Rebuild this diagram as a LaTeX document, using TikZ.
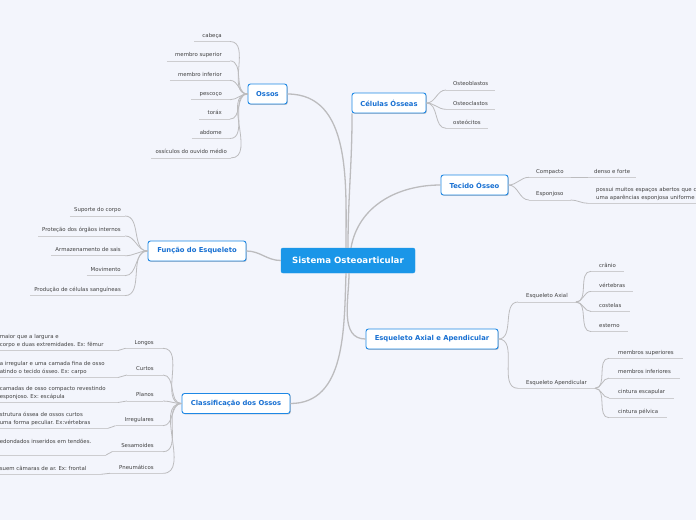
\documentclass[tikz,border=0pt]{standalone}
\usepackage{fontspec}
\setmainfont{DejaVu Sans}
\usetikzlibrary{shadows}
\definecolor{bg}{RGB}{243,245,252}
\definecolor{mblue}{RGB}{30,136,229}
\definecolor{mtext}{RGB}{24,112,210}
\definecolor{cfill}{RGB}{26,150,232}
\definecolor{lgray}{RGB}{205,205,208}
\definecolor{cgray}{RGB}{188,188,190}
\definecolor{tgray}{RGB}{65,65,65}
\newcommand{\dfix}{\rule[-1.5pt]{0pt}{1pt}}
\frenchspacing
\tikzset{
  central/.style={fill=cfill, draw=cfill, rounded corners=2pt, text=white,
    font=\fontsize{8.6}{10}\selectfont\bfseries, minimum width=134pt, minimum height=25pt, inner sep=0pt},
  topic/.style={fill=white, draw=mblue, line width=0.9pt, rounded corners=2.5pt, text=mtext,
    font=\fontsize{6.8}{8}\selectfont\bfseries, minimum height=20pt, inner sep=0pt,
    drop shadow={shadow xshift=0.8pt, shadow yshift=-0.9pt, opacity=0.22, fill=black}},
  uline/.style={draw=lgray, line width=0.8pt},
  sub/.style={font=\fontsize{5.4}{7.5}\selectfont\frenchspacing, text=tgray, inner ysep=2.5pt, inner xsep=7pt,
    text height=4pt, text depth=1.5pt,
    append after command={(\tikzlastnode.south west) edge[uline] (\tikzlastnode.south east)}},
  desc/.style={font=\fontsize{5.4}{7.5}\selectfont\frenchspacing, text=tgray, inner ysep=2.5pt, inner xsep=0pt,
    align=left, anchor=south east,
    append after command={(\tikzlastnode.south west) edge[uline] (\tikzlastnode.south east)}},
  conn/.style={draw=cgray, line width=0.8pt},
  mainconn/.style={draw=cgray, line width=1.3pt},
}
\begin{document}
\begin{tikzpicture}[x=1pt,y=-1pt]
\fill[bg] (0,0) rectangle (696,520);
\useasboundingbox (0,0) rectangle (696,520);

% main nodes
\node[central] (c) at (348,260.5) {Sistema Osteoarticular};
\node[topic, minimum width=39pt] (ossos) at (267.5,94) {Ossos};
\node[topic, minimum width=74pt] (cel) at (389,103) {Células Ósseas};
\node[topic, minimum width=67pt] (tec) at (474.5,185) {Tecido Ósseo};
\node[topic, minimum width=98pt] (fun) at (197,251) {Função do Esqueleto};
\node[topic, minimum width=108pt] (cla) at (236,403.5) {Classificação dos Ossos};
\node[topic, minimum width=132pt] (eaa) at (432,339) {Esqueleto Axial e Apendicular};

% main connectors
\draw[mainconn] ([xshift=-2pt]c.north) to[out=90,in=0] (ossos.east);
\draw[mainconn] ([xshift=0pt]c.north) to[out=90,in=-90] ([xshift=0.5pt]cel.south west);
\draw[mainconn] ([xshift=3pt]c.north) to[out=80,in=180] (tec.west);
\draw[mainconn] (c.west) to[out=180,in=0] (fun.east);
\draw[mainconn] ([xshift=-2pt]c.south) to[out=-92,in=0] (cla.east);
\draw[mainconn] ([xshift=1pt]c.south) to[out=-90,in=180] (eaa.west);

% Ossos
\node[sub, anchor=south east, inner xsep=8pt] (o1) at (230,41.5) {cabeça};
\node[sub, anchor=south east, inner xsep=8pt] (o2) at (230,60.9) {membro superior};
\node[sub, anchor=south east, inner xsep=8pt] (o3) at (230,80.3) {membro inferior};
\node[sub, anchor=south east, inner xsep=8pt] (o4) at (230,99.7) {pescoço};
\node[sub, anchor=south east, inner xsep=8pt] (o5) at (230,119.1) {toráx};
\node[sub, anchor=south east, inner xsep=8pt] (o6) at (230,138.5) {abdome};
\node[sub, anchor=south east, inner xsep=4pt] (o7) at (231,157.9) {ossículos do ouvido médio};
\foreach \n in {o1,o2,o3,o4,o5,o6,o7}
  \draw[conn] (\n.south east) to[out=0,in=180] (ossos.west);

% Celulas
\node[sub, anchor=south west] (c1) at (446,90) {Osteoblastos};
\node[sub, anchor=south west] (c2) at (446,109.3) {Osteoclastos};
\node[sub, anchor=south west] (c3) at (446,128.3) {osteócitos};
\foreach \n in {c1,c2,c3}
  \draw[conn] (cel.east) to[out=0,in=180] (\n.south west);

% Tecido
\node[sub, anchor=south west] (t1) at (529,177.3) {Compacto};
\node[sub, anchor=south west, inner xsep=6pt] (t1a) at (588,177.3) {denso e forte};
\node[sub, anchor=south west] (t2) at (529,200) {Esponjoso};
\node[desc, anchor=south west, inner xsep=8pt, text width=200pt] (t2a) at (588,203.3)
  {possui muitos espaços abertos que c\\uma aparências esponjosa uniforme\dfix};
\draw[conn] (tec.east) to[out=0,in=180] (t1.south west);
\draw[conn] (tec.east) to[out=0,in=180] (t2.south west);
\draw[conn] (t1.south east) -- (t1a.south west);
\draw[conn] (t2.south east) to[out=0,in=180] (t2a.south west);

% Funcao
\node[sub, anchor=south east, inner xsep=4pt] (f1) at (125,216) {Suporte do corpo};
\node[sub, anchor=south east, inner xsep=4pt] (f2) at (125,235.9) {Proteção dos órgãos internos};
\node[sub, anchor=south east, inner xsep=4pt] (f3) at (125,255.8) {Armazenamento de sais};
\node[sub, anchor=south east, inner xsep=4pt] (f4) at (125,275.7) {Movimento};
\node[sub, anchor=south east, inner xsep=4pt] (f5) at (125,295.6) {Produção de células sanguíneas};
\foreach \n in {f1,f2,f3,f4,f5}
  \draw[conn] (\n.south east) to[out=0,in=180] (fun.west);

% Esqueleto axial e apendicular
\node[sub, anchor=south west, inner xsep=8pt] (ax) at (518,302) {Esqueleto Axial};
\node[sub, anchor=south west, inner xsep=8pt] (ap) at (518,388.3) {Esqueleto Apendicular};
\draw[conn] (eaa.east) to[out=0,in=180] (ax.south west);
\draw[conn] (eaa.east) to[out=0,in=180] (ap.south west);
\node[sub, anchor=south west, inner xsep=8pt] (a1) at (591,271.3) {crânio};
\node[sub, anchor=south west, inner xsep=8pt] (a2) at (591,291.4) {vértebras};
\node[sub, anchor=south west, inner xsep=8pt] (a3) at (591,311.5) {costelas};
\node[sub, anchor=south west, inner xsep=8pt] (a4) at (591,331.6) {esterno};
\foreach \n in {a1,a2,a3,a4}
  \draw[conn] (ax.south east) to[out=0,in=180] (\n.south west);
\node[sub, anchor=south west, inner xsep=9pt] (p1) at (609,358.3) {membros superiores};
\node[sub, anchor=south west, inner xsep=9pt] (p2) at (609,378.1) {membros inferiores};
\node[sub, anchor=south west, inner xsep=9pt] (p3) at (609,397.9) {cintura escapular};
\node[sub, anchor=south west, inner xsep=9pt] (p4) at (609,417.7) {cintura pélvica};
\foreach \n in {p1,p2,p3,p4}
  \draw[conn] (ap.south east) to[out=0,in=180] (\n.south west);

% Classificacao
\node[sub, anchor=south east, inner xsep=9pt] (k1) at (163,348.3) {Longos};
\node[sub, anchor=south east, inner xsep=9pt] (k2) at (163,375) {Curtos};
\node[sub, anchor=south east, inner xsep=9pt] (k3) at (163,401) {Planos};
\node[sub, anchor=south east, inner xsep=9pt] (k4) at (163,425.7) {Irregulares};
\node[sub, anchor=south east, inner xsep=9pt] (k5) at (163,451.7) {Sesamoides};
\node[sub, anchor=south east, inner xsep=9pt] (k6) at (163,473.3) {Pneumáticos};
\foreach \n in {k1,k2,k3,k4,k5,k6}
  \draw[conn] (\n.south east) to[out=0,in=180] (cla.west);

\node[desc, text width=118pt] (d1) at (118,350.5)
  {maior que a largura e\\corpo e duas extremidades. Ex: fêmur\dfix};
\node[desc, text width=118pt] (d2) at (118,377.5)
  {a irregular e uma camada fina de osso\\atindo o tecido ósseo. Ex: carpo\dfix};
\node[desc, text width=118pt] (d3) at (118,402.5)
  {camadas de osso compacto revestindo\\esponjoso. Ex: escápula\dfix};
\node[desc, text width=108pt] (d4) at (108,428.3)
  {strutura óssea de ossos curtos\\uma forma peculiar. Ex:vértebras\dfix};
\node[desc, text width=106pt] (d5) at (106,455)
  {edondados inseridos em tendões.\\\mbox{}\dfix};
\node[desc, text width=101pt] (d6) at (101,474.3)
  {suem câmaras de ar. Ex: frontal\dfix};
\draw[conn] (d1.south east) to[out=0,in=180] (k1.south west);
\draw[conn] (d2.south east) to[out=0,in=180] (k2.south west);
\draw[conn] (d3.south east) to[out=0,in=180] (k3.south west);
\draw[conn] (d4.south east) to[out=0,in=180] (k4.south west);
\draw[conn] (d5.south east) to[out=0,in=180] (k5.south west);
\draw[conn] (d6.south east) to[out=0,in=180] (k6.south west);
\end{tikzpicture}
\end{document}
